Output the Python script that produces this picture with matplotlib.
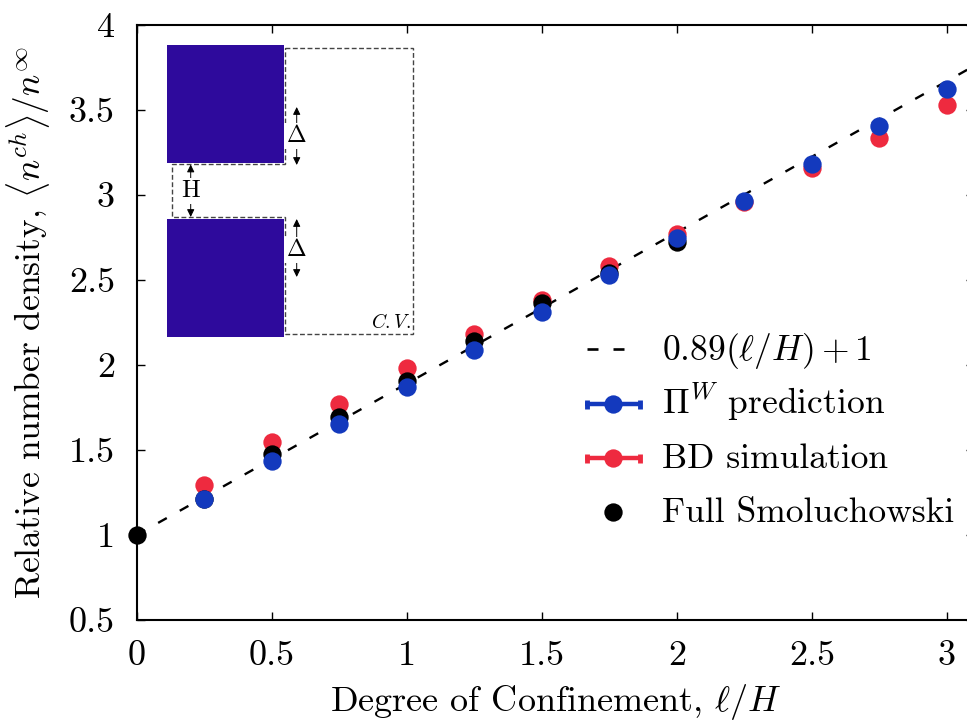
import matplotlib
matplotlib.use('Agg')
import matplotlib.pyplot as plt
from matplotlib.patches import Polygon, Rectangle

plt.rcParams['font.family'] = ['cmr10', 'DejaVu Sans']
plt.rcParams['mathtext.fontset'] = 'cm'
plt.rcParams['axes.formatter.use_mathtext'] = True
plt.rcParams['axes.unicode_minus'] = False

W, H = 967, 721

# data
conf = [0.25, 0.5, 0.75, 1.0, 1.25, 1.5, 1.75, 2.0, 2.25, 2.5, 2.75, 3.0]
bd = [1.293, 1.546, 1.77, 1.98, 2.185, 2.385, 2.581, 2.773, 2.96, 3.16, 3.336, 3.53]
pi_w = [1.213, 1.434, 1.654, 1.87, 2.09, 2.313, 2.528, 2.75, 2.967, 3.185, 3.405, 3.625]
full_x = [0, 0.25, 0.5, 0.75, 1.0, 1.25, 1.5, 1.75, 2.0]
full_y = [1.0, 1.21, 1.478, 1.695, 1.907, 2.14, 2.366, 2.544, 2.722]
fit_x = [0, 3.1]
fit_y = [1, 3.759]

xticks = [0, 0.5, 1, 1.5, 2, 2.5, 3]
xlabels = ['0', '0.5', '1', '1.5', '2', '2.5', '3']
yticks = [0.5, 1, 1.5, 2, 2.5, 3, 3.5, 4]
ylabels = ['0.5', '1', '1.5', '2', '2.5', '3', '3.5', '4']
key_labels = [r'$0.89(\ell/H)+1$', r'$\Pi^{W}$ prediction', 'BD simulation', 'Full Smoluchowski']

BLUE = '#1339bd'
RED = '#ee2a3f'
PURPLE = '#2e0a9c'
DASHES = (4.2, 6.3)


def bar_key(sk, y, color):
    # thick line with end caps and a dot in the middle
    sk.plot([585, 642], [y, y], color=color, lw=3.2, solid_capstyle='butt')
    sk.plot([587, 587], [y - 4.5, y + 4.5], color=color, lw=3.5, solid_capstyle='butt')
    sk.plot([640, 640], [y - 4.5, y + 4.5], color=color, lw=3.5, solid_capstyle='butt')
    sk.plot([613], [y], 'o', color=color, ms=13.2, mew=0)


fig = plt.figure(figsize=(W / 100, H / 100), dpi=100)
ax = fig.add_axes([136.5 / W, (H - 620) / H, (974 - 136.5) / W, (620 - 25) / H])

ax.plot(fit_x, fit_y, color='k', lw=1.7, dashes=DASHES, zorder=2)
ax.plot(full_x, full_y, 'o', color='k', ms=13.2, mew=0, zorder=3, clip_on=False)
ax.plot(conf, bd, 'o', color=RED, ms=13.2, mew=0, zorder=2.5)
ax.plot(conf, pi_w, 'o', color=BLUE, ms=13.2, mew=0, zorder=4)

ax.set_xlim(0, 3.1)
ax.set_ylim(0.5, 4)
ax.set_xticks(xticks)
ax.set_xticklabels(xlabels)
ax.set_yticks(yticks)
ax.set_yticklabels(ylabels)
ax.tick_params(direction='in', top=True, right=True, length=6, width=1, labelsize=26)
ax.tick_params(axis='x', pad=15)
ax.tick_params(axis='y', pad=15.5)
for s in ax.spines.values():
    s.set_linewidth(1.5)

ax.set_xlabel(r'Degree of Confinement, $\ell/H$', fontsize=26, labelpad=7)
ax.set_ylabel(r'Relative number density, $\langle n^{ch}\rangle/n^{\infty}$', fontsize=25.5, labelpad=12)

# overlay in pixel coordinates of the picture, for the key and the inset sketch
sk = fig.add_axes([0, 0, 1, 1], facecolor='none')
sk.set_xlim(0, W)
sk.set_ylim(H, 0)
sk.axis('off')

# key
sk.plot([587, 598], [349, 349], color='k', lw=1.9, solid_capstyle='butt')
sk.plot([613, 624], [349, 349], color='k', lw=1.9, solid_capstyle='butt')
bar_key(sk, 404, BLUE)
bar_key(sk, 458, RED)
sk.plot([613], [512], 'o', color='k', ms=13.2, mew=0)
for label, y in zip(key_labels, [360, 414, 468, 522]):
    sk.text(662, y, label, fontsize=25.6, ha='left', va='baseline')

# inset
sk.add_patch(Rectangle((166.7, 45.3), 117, 118, fc=PURPLE, ec='none'))
sk.add_patch(Rectangle((166.7, 219), 117, 118.3, fc=PURPLE, ec='none'))
cv = [(285.3, 47.7), (413.3, 47.7), (413.3, 334.3), (285.3, 334.3), (285.3, 217.3),
      (171.7, 217.3), (171.7, 164.3), (285.3, 164.3)]
sk.add_patch(Polygon(cv, closed=True, fc='none', ec='#444444', lw=1, ls=(0, (3.5, 1.8))))

arrow = dict(arrowstyle='<|-|>,head_width=0.22,head_length=0.45', color='k', lw=0.7, shrinkA=0, shrinkB=0)
sk.annotate('', xy=(190.7, 164.5), xytext=(190.7, 217), arrowprops=arrow)
sk.annotate('', xy=(296.7, 107), xytext=(296.7, 165), arrowprops=arrow)
sk.annotate('', xy=(296.7, 219), xytext=(296.7, 277), arrowprops=arrow)
box = dict(fc='white', ec='none', pad=1.5)
sk.text(190.7, 191, 'H', fontsize=18, ha='center', va='center', bbox=box)
sk.text(296.7, 136, r'$\Delta$', fontsize=17, ha='center', va='center', bbox=box)
sk.text(296.7, 250, r'$\Delta$', fontsize=17, ha='center', va='center', bbox=box)
sk.text(411, 323, r'$C.V.$', fontsize=14, ha='right', va='center')

fig.savefig('out.png', dpi=100)
